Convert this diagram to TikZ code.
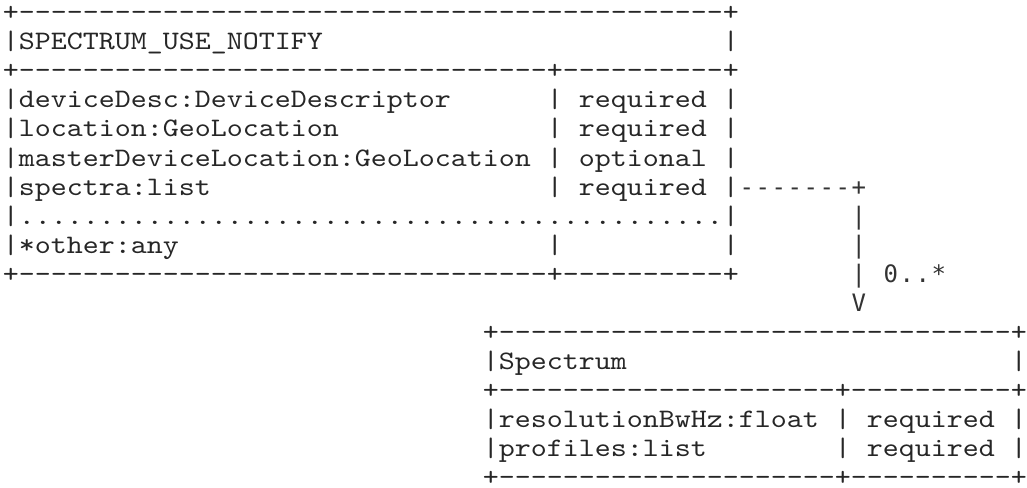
\documentclass[tikz,border=0pt]{standalone}
\usepackage{fontspec}
% typewriter face for the record boxes, widened to a 16px cell
\newfontfamily\boxfont{lmmono10-regular.otf}[FakeStretch=1.142857,Ligatures=TeXOff]
% sans mono for the association arrow and its multiplicity
\newfontfamily\linkfont{DejaVu Sans Mono}[Ligatures=TeXOff]
\tikzset{
  cell/.style={inner sep=0pt, outer sep=0pt, anchor=base west, text depth=0pt,
    font=\boxfont\fontsize{20pt}{20pt}\selectfont, text=black!85},
  link/.style={inner sep=0pt, outer sep=0pt, anchor=base,
    font=\linkfont\fontsize{18pt}{18pt}\selectfont, text=black!80},
}
% one run of characters starting at a given column and line
\newcommand\asc[4]{\node[cell] (#1) at ({2.9+16*#2},{20.8+29.05*#3}) {#4};}
% a single character centred on a given column and line
\newcommand\glyph[4]{\node[link] (#1) at ({10.9+16*#2},{20.8+29.05*#3}) {#4};}
\newcommand\reps[2]{\foreach \k in {1,...,#1}{#2}}
\begin{document}
\begin{tikzpicture}[x=0.75pt,y=-0.75pt]
\useasboundingbox (0,0) rectangle (1027,488);

% SPECTRUM_USE_NOTIFY record
\asc{n0}{0}{0}{+\reps{44}{-}+}
\asc{n1}{0}{1}{|SPECTRUM\_USE\_NOTIFY}
\asc{n1r}{45}{1}{|}
\asc{n2}{0}{2}{+\reps{33}{-}+\reps{10}{-}+}
\asc{n3}{0}{3}{|deviceDesc:DeviceDescriptor}
\asc{n3m}{34}{3}{|}
\asc{n3v}{36}{3}{required}
\asc{n3r}{45}{3}{|}
\asc{n4}{0}{4}{|location:GeoLocation}
\asc{n4m}{34}{4}{|}
\asc{n4v}{36}{4}{required}
\asc{n4r}{45}{4}{|}
\asc{n5}{0}{5}{|masterDeviceLocation:GeoLocation}
\asc{n5m}{34}{5}{|}
\asc{n5v}{36}{5}{optional}
\asc{n5r}{45}{5}{|}
\asc{n6}{0}{6}{|spectra:list}
\asc{n6m}{34}{6}{|}
\asc{n6v}{36}{6}{required}
\asc{n6r}{45}{6}{|}
\asc{n7}{0}{7}{|\reps{44}{.}|}
\asc{n8}{0}{8}{|*other:any}
\asc{n8m}{34}{8}{|}
\asc{n8r}{45}{8}{|}
\asc{n9}{0}{9}{+\reps{33}{-}+\reps{10}{-}+}

% association from spectra to Spectrum
\foreach \c in {46,...,52}{\glyph{h-\c}{\c}{6}{-}}
\glyph{corner}{53}{6}{+}
\foreach \r in {7,8,9}{\glyph{v-\r}{53}{\r}{|}}
\glyph{head}{53}{10}{V}
\glyph{m0}{55}{9}{0}
\glyph{m1}{56}{9}{.}
\glyph{m2}{57}{9}{.}
\glyph{m3}{58}{9}{*}

% Spectrum record
\asc{s0}{30}{11}{+\reps{32}{-}+}
\asc{s1}{30}{12}{|Spectrum}
\asc{s1r}{63}{12}{|}
\asc{s2}{30}{13}{+\reps{21}{-}+\reps{10}{-}+}
\asc{s3}{30}{14}{|resolutionBwHz:float}
\asc{s3m}{52}{14}{|}
\asc{s3v}{54}{14}{required}
\asc{s3r}{63}{14}{|}
\asc{s4}{30}{15}{|profiles:list}
\asc{s4m}{52}{15}{|}
\asc{s4v}{54}{15}{required}
\asc{s4r}{63}{15}{|}
\asc{s5}{30}{16}{+\reps{21}{-}+\reps{10}{-}+}
\end{tikzpicture}
\end{document}
